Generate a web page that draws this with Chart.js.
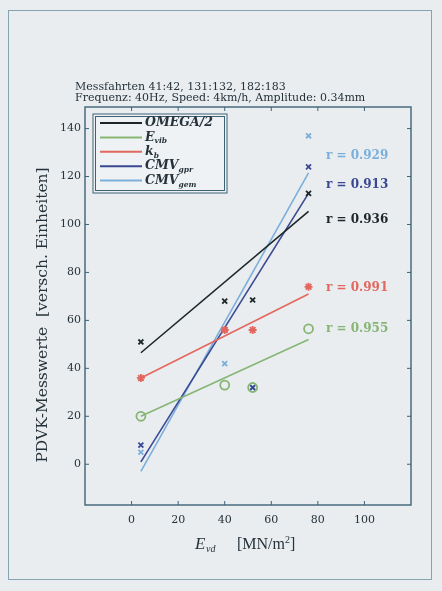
<!DOCTYPE html>
<html>
<head>
<meta charset="utf-8">
<script src="https://cdn.jsdelivr.net/npm/chart.js@4/dist/chart.umd.min.js"></script>
<style>
  html, body { margin: 0; padding: 0; background: #e9edf0; }
  #wrap { position: relative; width: 442px; height: 591px; }
  #frame { position: absolute; left: 8px; top: 10px; width: 422px; height: 568px; border: 1.5px solid #86a3b4; }
  canvas { position: absolute; left: 0; top: 0; }
</style>
</head>
<body>
<div id="wrap">
  <div id="frame"></div>
  <canvas id="fdvkChart" width="442" height="591"></canvas>
</div>
<script>
// Messpunkte (E_vd in MN/m2)
const evd = [4, 40, 52, 76];
const omega = [51, 68, 68.5, 113];
const evib = [20, 33, 32, 56.5];
const kb = [36, 56, 56, 74];
const cmvGpr = [8, 56, 32, 124];
const cmvGem = [5, 42, 32, 137];

// Regressionsgeraden (Anfang / Ende)
const fitX = [4, 76];
const omegaFit = [46.5, 105.5];
const evibFit = [20, 52];
const kbFit = [36, 71];
const gprFit = [1, 113];
const gemFit = [-3, 121.5];

// Korrelationskoeffizienten
const rValues = ['0.936', '0.955', '0.991', '0.913', '0.929'];
const rLabelY = [102, 56.3, 73.6, 116.7, 128.5];
const rLabelX = 83.5;

const seriesNames = ['OMEGA/2', 'E', 'k', 'CMV', 'CMV'];
const seriesSubs = ['', 'vib', 'b', 'gpr', 'gem'];
const seriesColors = ['#1c2628', '#86b574', '#e2685f', '#3a4892', '#7aafdc'];

const xTicks = [0, 20, 40, 60, 80, 100];
const yTicks = [0, 20, 40, 60, 80, 100, 120, 140];

const titleLines = ['Messfahrten 41:42, 131:132, 182:183', 'Frequenz: 40Hz, Speed: 4km/h, Amplitude: 0.34mm'];

const axisColor = '#3d6276';
const textColor = '#26323a';
const serif = '"DejaVu Serif", "Liberation Serif", serif';
const serif2 = '"Liberation Serif", serif';

function pts(xs, ys) {
    return xs.map((x, i) => ({ x: x, y: ys[i] }));
}

function fitSet(ys, color) {
    return { data: pts(fitX, ys), showLine: true, borderColor: color, borderWidth: 1.6, pointRadius: 0, order: 2 };
}

function markSet(ys, color, style, r) {
    return { data: pts(evd, ys), showLine: false, pointStyle: style, pointRadius: r, borderColor: color,
             backgroundColor: style === 'circle' ? 'rgba(0,0,0,0)' : color, pointBorderWidth: 1.8, order: 1 };
}

// Texte, Rahmen und Legende
const decor = {
    id: 'decor',
    afterDraw(chart) {
        const ctx = chart.ctx;
        const a = chart.chartArea;
        const xs = chart.scales.x, ys = chart.scales.y;
        ctx.save();

        // Achsenrahmen
        ctx.strokeStyle = axisColor;
        ctx.lineWidth = 1.4;
        ctx.strokeRect(a.left, a.top, a.right - a.left, a.bottom - a.top);

        // Ticks nach innen
        ctx.lineWidth = 1;
        ctx.beginPath();
        xTicks.forEach(v => {
            const px = xs.getPixelForValue(v);
            ctx.moveTo(px, a.bottom); ctx.lineTo(px, a.bottom - 4);
            ctx.moveTo(px, a.top); ctx.lineTo(px, a.top + 4);
        });
        yTicks.forEach(v => {
            const py = ys.getPixelForValue(v);
            ctx.moveTo(a.left, py); ctx.lineTo(a.left + 4, py);
            ctx.moveTo(a.right, py); ctx.lineTo(a.right - 4, py);
        });
        ctx.stroke();

        // Titel
        ctx.fillStyle = textColor;
        ctx.font = '11px ' + serif;
        ctx.textAlign = 'left';
        ctx.textBaseline = 'middle';
        ctx.fillText(titleLines[0], 75, 87);
        ctx.fillText(titleLines[1], 75, 98);

        // Legende
        const lx = 93, ly = 114, lw = 134, lh = 79;
        ctx.fillStyle = '#eef2f4';
        ctx.fillRect(lx, ly, lw, lh);
        ctx.strokeStyle = axisColor;
        ctx.lineWidth = 1;
        ctx.strokeRect(lx, ly, lw, lh);
        ctx.strokeRect(lx + 2.5, ly + 2.5, lw - 5, lh - 5);
        seriesNames.forEach((name, i) => {
            const y = 123 + i * 14.4;
            ctx.strokeStyle = seriesColors[i];
            ctx.lineWidth = 2;
            ctx.beginPath();
            ctx.moveTo(100, y); ctx.lineTo(142, y);
            ctx.stroke();
            ctx.fillStyle = textColor;
            ctx.font = 'italic bold 12.5px ' + serif;
            ctx.fillText(name, 145, y);
            if (seriesSubs[i]) {
                const w = ctx.measureText(name).width;
                ctx.font = 'italic bold 7.5px ' + serif;
                ctx.fillText(seriesSubs[i], 145 + w, y + 4);
            }
        });

        // r-Werte
        ctx.font = 'bold 12px ' + serif;
        rValues.forEach((r, i) => {
            ctx.fillStyle = seriesColors[i];
            ctx.fillText('r = ' + r, xs.getPixelForValue(rLabelX), ys.getPixelForValue(rLabelY[i]));
        });

        // Achsentitel x
        ctx.fillStyle = textColor;
        ctx.font = 'italic 17px ' + serif2;
        ctx.fillText('E', 195, 545);
        ctx.font = 'italic 10px ' + serif2;
        ctx.fillText('vd', 206, 549);
        ctx.font = '16px ' + serif2;
        ctx.fillText('[MN/m', 237, 545);
        const mw = ctx.measureText('[MN/m').width;
        ctx.font = '10px ' + serif2;
        ctx.fillText('2', 237 + mw, 540);
        ctx.font = '16px ' + serif2;
        ctx.fillText(']', 237 + mw + 5, 545);

        // Achsentitel y
        ctx.translate(43, 315);
        ctx.rotate(-Math.PI / 2);
        ctx.textAlign = 'center';
        ctx.font = '15.5px ' + serif;
        ctx.fillText('PDVK-Messwerte  [versch. Einheiten]', 0, 0);
        ctx.restore();
    }
};

const ctx = document.getElementById('fdvkChart').getContext('2d');
window.fdvkChart = new Chart(ctx, {
    type: 'scatter',
    data: {
        datasets: [
            fitSet(omegaFit, seriesColors[0]),
            fitSet(evibFit, seriesColors[1]),
            fitSet(kbFit, seriesColors[2]),
            fitSet(gprFit, seriesColors[3]),
            fitSet(gemFit, seriesColors[4]),
            markSet(omega, seriesColors[0], 'crossRot', 3.5),
            markSet(evib, seriesColors[1], 'circle', 4.5),
            markSet(kb, seriesColors[2], 'star', 4),
            markSet(cmvGpr, seriesColors[3], 'crossRot', 3.5),
            markSet(cmvGem, seriesColors[4], 'crossRot', 3.5)
        ]
    },
    options: {
        responsive: false,
        animation: false,
        layout: { padding: { left: 0, top: 107, right: 31, bottom: 0 } },
        plugins: { legend: { display: false }, tooltip: { enabled: false } },
        scales: {
            x: {
                type: 'linear', min: -20, max: 120,
                afterBuildTicks: s => { s.ticks = xTicks.map(v => ({ value: v })); },
                afterFit: s => { s.height = 86; },
                grid: { display: false, drawTicks: false },
                border: { display: false },
                ticks: { padding: 9, color: textColor, font: { family: serif, size: 11 } }
            },
            y: {
                type: 'linear', min: -17, max: 149,
                afterBuildTicks: s => { s.ticks = yTicks.map(v => ({ value: v })); },
                afterFit: s => { s.width = 85; },
                grid: { display: false, drawTicks: false },
                border: { display: false },
                ticks: { padding: 4, color: textColor, font: { family: serif, size: 11 } }
            }
        }
    },
    plugins: [decor]
});
</script>
</body>
</html>
